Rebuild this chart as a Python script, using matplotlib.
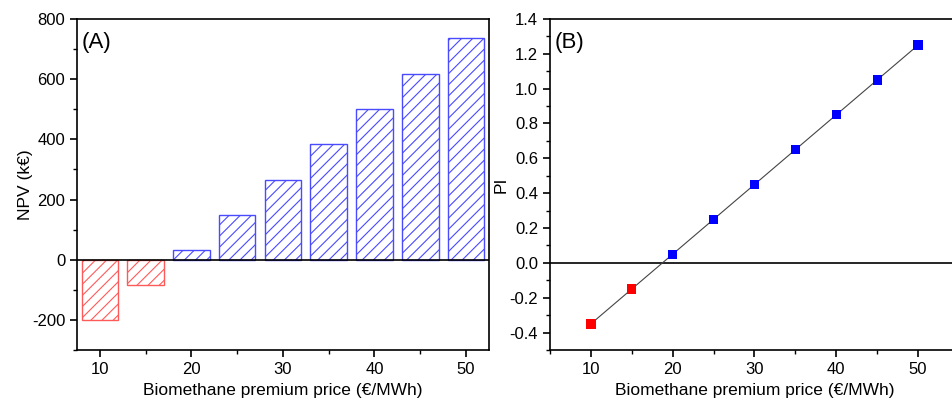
import numpy as np
import matplotlib.pyplot as plt
from matplotlib.ticker import MultipleLocator

plt.rcParams["font.family"] = ["Liberation Sans", "DejaVu Sans"]
plt.rcParams["hatch.linewidth"] = 0.8
plt.rcParams["axes.unicode_minus"] = False

# Data
price = [10, 15, 20, 25, 30, 35, 40, 45, 50]  # EUR/MWh
npv = [-200, -85, 33, 150, 265, 383, 500, 618, 737]  # kEUR
pi = [-0.35, -0.15, 0.05, 0.25, 0.45, 0.65, 0.85, 1.05, 1.25]

blue = "#4a4aff"
red = "#ff5a5a"

fig = plt.figure(figsize=(9.53, 4.03), dpi=100)
ax1 = fig.add_axes([0.0808, 0.1315, 0.4322, 0.8215])
ax2 = fig.add_axes([0.5771, 0.1315, 0.4292, 0.8215])

# (A) NPV bars
for x, v in zip(price, npv):
    col = red if v < 0 else blue
    ax1.bar(x, v, width=4, facecolor="none", edgecolor=col, hatch="///", lw=1.0)
ax1.axhline(0, color="black", lw=1.2)
ax1.set_xlim(7.5, 52.5)
ax1.set_ylim(-300, 800)
ax1.xaxis.set_major_locator(MultipleLocator(10))
ax1.xaxis.set_minor_locator(MultipleLocator(5))
ax1.yaxis.set_major_locator(MultipleLocator(200))
ax1.yaxis.set_minor_locator(MultipleLocator(100))
ax1.set_xlabel("Biomethane premium price (€/MWh)", fontsize=12.5)
ax1.xaxis.set_label_coords(0.5, -0.10)
ax1.set_ylabel("NPV (k€)", fontsize=12.5)
ax1.yaxis.set_label_coords(-0.108, 0.5)
ax1.text(0.012, 0.93, "(A)", transform=ax1.transAxes, fontsize=16, va="center")

# (B) PI line
ax2.plot(price, pi, color="#444444", lw=0.8, zorder=2)
cols = ["#ff0000" if v < 0 else "#0000ff" for v in pi]
ax2.scatter(price, pi, marker="s", s=45, c=cols, zorder=3, linewidths=0)
ax2.axhline(0, color="black", lw=1.2, zorder=1)
ax2.set_xlim(5, 55)
ax2.set_ylim(-0.5, 1.4)
ax2.xaxis.set_major_locator(MultipleLocator(10))
ax2.xaxis.set_minor_locator(MultipleLocator(5))
ax2.yaxis.set_major_locator(MultipleLocator(0.2))
ax2.yaxis.set_minor_locator(MultipleLocator(0.1))
ax2.set_xlabel("Biomethane premium price (€/MWh)", fontsize=12.5)
ax2.xaxis.set_label_coords(0.5, -0.10)
ax2.set_ylabel("PI", fontsize=12.5)
ax2.yaxis.set_label_coords(-0.100, 0.5)
ax2.text(0.012, 0.93, "(B)", transform=ax2.transAxes, fontsize=16, va="center")

for ax in (ax1, ax2):
    for s in ax.spines.values():
        s.set_linewidth(1.2)
    ax.tick_params(which="major", direction="out", length=5, width=1.2, labelsize=12)
    ax.tick_params(which="minor", direction="out", length=3, width=1.0)

fig.savefig("out.png", dpi=100)
